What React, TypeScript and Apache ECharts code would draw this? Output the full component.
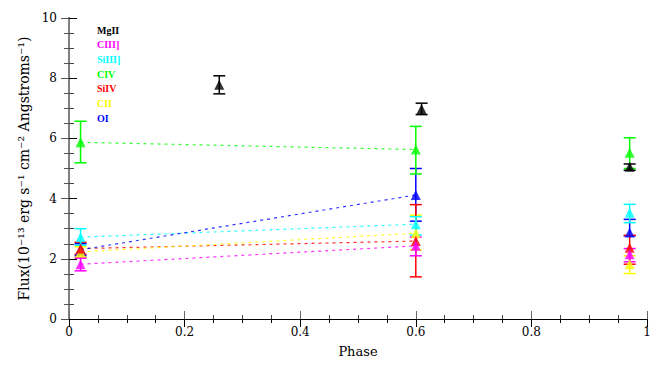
import React, { useEffect, useRef } from "react";
import * as echarts from "echarts";

const ions = ["MgII", "CIII]", "SiIII]", "CIV", "SiIV", "CII", "OI"];
const colors = ["#000000", "#ff00ff", "#00ffff", "#00ff00", "#ff0000", "#ffff00", "#0000ff"];

const phaseMgII = [0.26, 0.61, 0.97];
const phaseOther = [0.02, 0.6, 0.97];

const mgII = [7.78, 6.98, 5.06];
const mgIILo = [7.48, 6.79, 4.94];
const mgIIHi = [8.08, 7.17, 5.15];

const cIII = [1.82, 2.43, 2.15];
const cIIILo = [1.6, 2.1, 1.9];
const cIIIHi = [2.02, 2.72, 2.34];

const siIII = [2.72, 3.15, 3.53];
const siIIILo = [2.45, 2.79, 3.2];
const siIIIHi = [3.0, 3.4, 3.81];

const cIV = [5.87, 5.63, 5.52];
const cIVLo = [5.19, 4.82, 5.0];
const cIVHi = [6.57, 6.4, 6.02];

const siIV = [2.34, 2.59, 2.37];
const siIVLo = [2.15, 1.4, 1.82];
const siIVHi = [2.55, 3.8, 2.78];

const cII = [2.23, 2.85, 1.82];
const cIILo = [2.05, 2.3, 1.51];
const cIIHi = [2.4, 3.45, 2.1];

const oI = [2.3, 4.12, 2.87];
const oILo = [2.1, 3.25, 2.76];
const oIHi = [2.5, 5.0, 3.31];

const allVals = [mgII, cIII, siIII, cIV, siIV, cII, oI];
const allLo = [mgIILo, cIIILo, siIIILo, cIVLo, siIVLo, cIILo, oILo];
const allHi = [mgIIHi, cIIIHi, siIIIHi, cIVHi, siIVHi, cIIHi, oIHi];

const xTicks = [0, 0.2, 0.4, 0.6, 0.8, 1];
const yTicks = [0, 2, 4, 6, 8, 10];

const FONT = "'DejaVu Serif', 'Liberation Serif', serif";
const LFONT = "'Liberation Serif', 'DejaVu Serif', serif";

export default function App() {
  const ref = useRef<HTMLDivElement>(null);
  useEffect(() => {
    document.body.style.margin = "0";
    if (!ref.current) return;
    const chart = echarts.init(ref.current, null, { renderer: "svg" });
    const series: any[] = [];
    ions.forEach((name, i) => {
      const phases = i === 0 ? phaseMgII : phaseOther;
      const vals = allVals[i];
      const lo = allLo[i];
      const hi = allHi[i];
      const col = colors[i];
      const order = ions.length - i;
      if (i > 0) {
        series.push({
          type: "line",
          name: name + "-line",
          data: [
            [phases[0], vals[0]],
            [phases[1], vals[1]],
          ],
          showSymbol: false,
          symbol: "none",
          lineStyle: { color: col, width: 1.2, type: [3, 4], opacity: 0.8 },
          z: 2,
          silent: true,
        });
      }
      series.push({
        type: "custom",
        name: name + "-err",
        data: phases.map((p, k) => [p, lo[k], hi[k]]),
        renderItem: (params: any, api: any) => {
          const x = api.value(0);
          const a = api.coord([x, api.value(1)]);
          const b = api.coord([x, api.value(2)]);
          const hw = 6;
          const style = { stroke: col, lineWidth: 1.5, fill: "none" };
          return {
            type: "group",
            children: [
              { type: "line", shape: { x1: a[0], y1: a[1], x2: b[0], y2: b[1] }, style },
              { type: "line", shape: { x1: a[0] - hw, y1: a[1], x2: a[0] + hw, y2: a[1] }, style },
              { type: "line", shape: { x1: b[0] - hw, y1: b[1], x2: b[0] + hw, y2: b[1] }, style },
            ],
          };
        },
        z: 3 + order * 0.01,
        silent: true,
      });
      series.push({
        type: "scatter",
        name,
        data: phases.map((p, k) => [p, vals[k]]),
        symbol: "triangle",
        symbolSize: [10, 10],
        itemStyle: { color: col },
        z: 4 + order,
        silent: true,
      });
    });

    const graphics = ions.map((name, i) => ({
      type: "text",
      left: 97,
      top: 25 + i * 14.7,
      style: {
        text: name,
        fill: colors[i],
        font: "bold 10px " + LFONT,
      },
    }));

    chart.setOption({
      animation: false,
      backgroundColor: "#ffffff",
      grid: { left: 69, right: 17, top: 18, bottom: 46 },
      xAxis: [
        {
          type: "value",
          min: xTicks[0],
          max: xTicks[xTicks.length - 1],
          interval: 0.2,
          name: "Phase",
          nameLocation: "middle",
          nameGap: 26,
          nameTextStyle: { fontFamily: FONT, fontSize: 13, color: "#000" },
          axisLine: { lineStyle: { color: "#000", width: 1 } },
          axisTick: { inside: true, length: 8, lineStyle: { color: "#666" } },
          minorTick: { show: true, splitNumber: 4, length: 4, lineStyle: { color: "#444" } },
          axisLabel: {
            fontFamily: FONT,
            fontSize: 12,
            color: "#000",
            margin: 7,
            formatter: (v: number) => String(Math.round(v * 10) / 10),
          },
          splitLine: { show: false },
        },
        {
          type: "value",
          position: "top",
          min: 0,
          max: 1,
          interval: 0.2,
          axisLine: { lineStyle: { color: "#000", width: 1 } },
          axisTick: { inside: true, length: 8, lineStyle: { color: "#000" } },
          minorTick: { show: true, splitNumber: 4, length: 4, lineStyle: { color: "#000" } },
          axisLabel: { show: false },
          splitLine: { show: false },
        },
      ],
      yAxis: [
        {
          type: "value",
          min: yTicks[0],
          max: yTicks[yTicks.length - 1],
          interval: 2,
          name: "Flux(10\u207B\u00B9\u00B3 erg s\u207B\u00B9 cm\u207B\u00B2 Angstroms\u207B\u00B9)",
          nameLocation: "middle",
          nameGap: 35,
          nameTextStyle: { fontFamily: FONT, fontSize: 14, color: "#000" },
          axisLine: { lineStyle: { color: "#808080", width: 2 } },
          axisTick: { inside: true, length: 8, lineStyle: { color: "#000" } },
          minorTick: { show: true, splitNumber: 4, length: 5, lineStyle: { color: "#444" } },
          axisLabel: { fontFamily: FONT, fontSize: 12, color: "#000", margin: 12 },
          splitLine: { show: false },
        },
        {
          type: "value",
          position: "right",
          min: 0,
          max: 10,
          interval: 2,
          axisLine: { show: true, lineStyle: { color: "#808080", width: 2 } },
          axisTick: { inside: true, length: 8, lineStyle: { color: "#555" } },
          minorTick: { show: true, splitNumber: 4, length: 5, lineStyle: { color: "#555" } },
          axisLabel: { show: false },
          splitLine: { show: false },
        },
      ],
      graphic: graphics,
      series,
    });
    return () => chart.dispose();
  }, []);
  return <div ref={ref} style={{ width: 664, height: 365 }} />;
}
